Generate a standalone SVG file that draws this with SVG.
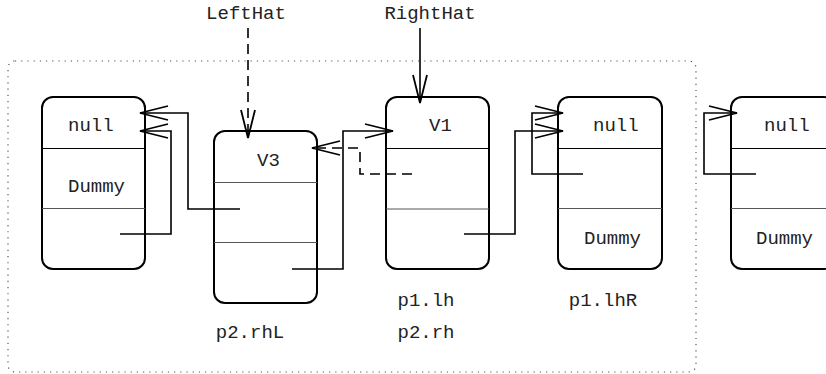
<svg xmlns="http://www.w3.org/2000/svg" width="826" height="374" viewBox="0 0 826 374">
<style>
.box{fill:#fff;stroke:#000;stroke-width:2}
.div1{stroke:#000;stroke-width:1}
.div2{stroke:#555;stroke-width:1}
.t{font-family:"Liberation Mono",monospace;font-size:19px;fill:#222}
.c{fill:none;stroke:#000;stroke-width:1.6}
.d{stroke-dasharray:10 6}
.frame{fill:none;stroke:#555;stroke-width:1.2;stroke-dasharray:1.2 5}
</style>
<defs>
<marker id="ah" markerUnits="userSpaceOnUse" markerWidth="40" markerHeight="20" viewBox="-30 -10 32 20" refX="0" refY="0" orient="auto">
<path d="M-28,-7 L0,0 L-28,7" fill="none" stroke="#000" stroke-width="1.8"/>
</marker>
</defs>
<rect class="frame" x="8" y="61" width="688" height="311" rx="7"/>
<g id="n1">
<rect class="box" x="42" y="97" width="103" height="172" rx="11"/>
<line class="div1" x1="42" y1="148.5" x2="145" y2="148.5"/>
<line class="div2" x1="42" y1="208.5" x2="145" y2="208.5"/>
<text class="t" x="68" y="131">null</text>
<text class="t" x="68" y="192">Dummy</text>
</g>
<g id="n2">
<rect class="box" x="214" y="131" width="103" height="172" rx="11"/>
<line class="div2" x1="214" y1="182.5" x2="317" y2="182.5"/>
<line class="div2" x1="214" y1="242.5" x2="317" y2="242.5"/>
<text class="t" x="257" y="166">V3</text>
<text class="t" x="250" y="338" text-anchor="middle">p2.rhL</text>
</g>
<g id="n3">
<rect class="box" x="386" y="97" width="103" height="172" rx="11"/>
<line class="div1" x1="386" y1="148.5" x2="489" y2="148.5"/>
<line class="div2" x1="386" y1="209" x2="489" y2="209"/>
<text class="t" x="429" y="131">V1</text>
<text class="t" x="426" y="306" text-anchor="middle">p1.lh</text>
<text class="t" x="426" y="338" text-anchor="middle">p2.rh</text>
</g>
<g id="n4">
<rect class="box" x="558" y="97" width="104" height="172" rx="11"/>
<line class="div1" x1="558" y1="148.5" x2="662" y2="148.5"/>
<line class="div2" x1="558" y1="208.5" x2="662" y2="208.5"/>
<text class="t" x="593" y="131">null</text>
<text class="t" x="584" y="244">Dummy</text>
<text class="t" x="603" y="306" text-anchor="middle">p1.lhR</text>
</g>
<g id="n5">
<rect class="box" x="731" y="97" width="104" height="172" rx="11"/>
<line class="div1" x1="731" y1="148.5" x2="835" y2="148.5"/>
<line class="div2" x1="731" y1="208.5" x2="835" y2="208.5"/>
<text class="t" x="764" y="131">null</text>
<text class="t" x="756" y="244">Dummy</text>
</g>
<g id="hats">
<text class="t" x="246" y="19" text-anchor="middle">LeftHat</text>
<text class="t" x="430" y="19" text-anchor="middle">RightHat</text>
</g>
<g id="connectors">
<polyline class="c" points="240,209 188,209 188,113 140,113" marker-end="url(#ah)"/>
<polyline class="c" points="120,234 171,234 171,131 140,131" marker-end="url(#ah)"/>
<polyline class="c" points="292,269 343,269 343,131 393,131" marker-end="url(#ah)"/>
<polyline class="c d" points="412,174 360,174 360,148 312,148" marker-end="url(#ah)"/>
<polyline class="c d" points="248,28 248,138" marker-end="url(#ah)"/>
<polyline class="c" points="420,28 420,103" marker-end="url(#ah)"/>
<polyline class="c" points="464,234 515,234 515,131 563,131" marker-end="url(#ah)"/>
<polyline class="c" points="583,174 532,174 532,113 563,113" marker-end="url(#ah)"/>
<polyline class="c" points="756,174 704,174 704,113 737,113" marker-end="url(#ah)"/>
</g>
</svg>
